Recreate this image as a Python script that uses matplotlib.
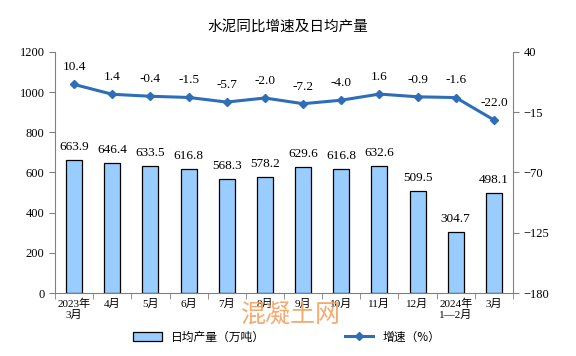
import numpy as np
import matplotlib
matplotlib.use("Agg")
import matplotlib.pyplot as plt
from matplotlib.lines import Line2D
from matplotlib.patches import Patch

plt.rcParams["font.family"] = ["Liberation Serif", "Noto Sans CJK SC"]

months = ["2023年\n3月", "4月", "5月", "6月", "7月", "8月", "9月", "10月",
          "11月", "12月", "2024年\n1—2月", "3月"]
daily_output = [663.9, 646.4, 633.5, 616.8, 568.3, 578.2, 629.6, 616.8,
                632.6, 509.5, 304.7, 498.1]
growth = [10.4, 1.4, -0.4, -1.5, -5.7, -2.0, -7.2, -4.0, 1.6, -0.9, -1.6, -22.0]

bar_color = "#99CCFF"
line_color = "#2E6DB8"
axis_gray = "#808080"

fig = plt.figure(figsize=(5.76, 3.56), dpi=100)
ax = fig.add_axes([55 / 576, 1 - 293 / 356, 458 / 576, 241 / 356])
ax2 = ax.twinx()

x = np.arange(len(months))
ax.bar(x, daily_output, width=0.42, color=bar_color, edgecolor="black",
       linewidth=0.9, zorder=2)
for xi, v in zip(x, daily_output):
    ax.annotate(f"{v:.1f}", (xi, v), xytext=(0, 5), textcoords="offset points",
                ha="center", va="bottom", fontsize=9.5)

ax2.plot(x, growth, color=line_color, linewidth=2.2, marker="D",
         markersize=4.5, zorder=3)
for xi, v in zip(x, growth):
    ax2.annotate(f"{v:.1f}", (xi, v), xytext=(0, 8), textcoords="offset points",
                 ha="center", va="bottom", fontsize=9.5)

ax.set_xlim(-0.5, len(months) - 0.5)
ax.set_ylim(0, 1200)
ax.set_yticks(np.arange(0, 1201, 200))
ax2.set_ylim(-180, 40)
ax2.set_yticks([40, -15, -70, -125, -180])

ax.set_xticks(x)
ax.set_xticklabels(months, fontsize=8, linespacing=1.15)
ax.set_xticks(np.arange(-0.5, len(months), 1), minor=True)
ax.tick_params(axis="x", which="major", length=0, pad=4)
ax.tick_params(axis="x", which="minor", length=4, color=axis_gray, direction="out")
ax.tick_params(axis="y", labelsize=9, length=4, color=axis_gray)
ax2.tick_params(axis="y", labelsize=9, length=4, color=axis_gray)

for a in (ax, ax2):
    a.spines["top"].set_visible(False)
    for s in ("left", "right", "bottom"):
        a.spines[s].set_color(axis_gray)
ax2.spines["left"].set_visible(False)
ax2.spines["bottom"].set_visible(False)
ax.spines["right"].set_visible(False)

fig.text(0.5, 1 - 27 / 356, "水泥同比增速及日均产量", ha="center", va="center",
         fontsize=10.5, family=["Noto Sans CJK SC"])

# watermark
fig.text(291 / 576, 1 - 316 / 356, "混凝土网", ha="center", va="center",
         fontsize=18, color="#F2A262", alpha=0.9, family=["Noto Sans CJK SC"])

handles = [Patch(facecolor=bar_color, edgecolor="black", linewidth=0.9),
           Line2D([0], [0], color=line_color, linewidth=2.2, marker="D",
                  markersize=4.5)]
fig.legend(handles, ["日均产量（万吨）", "增速（%）"], loc="center",
           bbox_to_anchor=(0.498, 1 - 337 / 356), ncol=2, frameon=False,
           columnspacing=6.75, handlelength=2.4,
           prop={"family": ["Noto Sans CJK SC"], "size": 8.5})

fig.savefig("out.png", dpi=100)
